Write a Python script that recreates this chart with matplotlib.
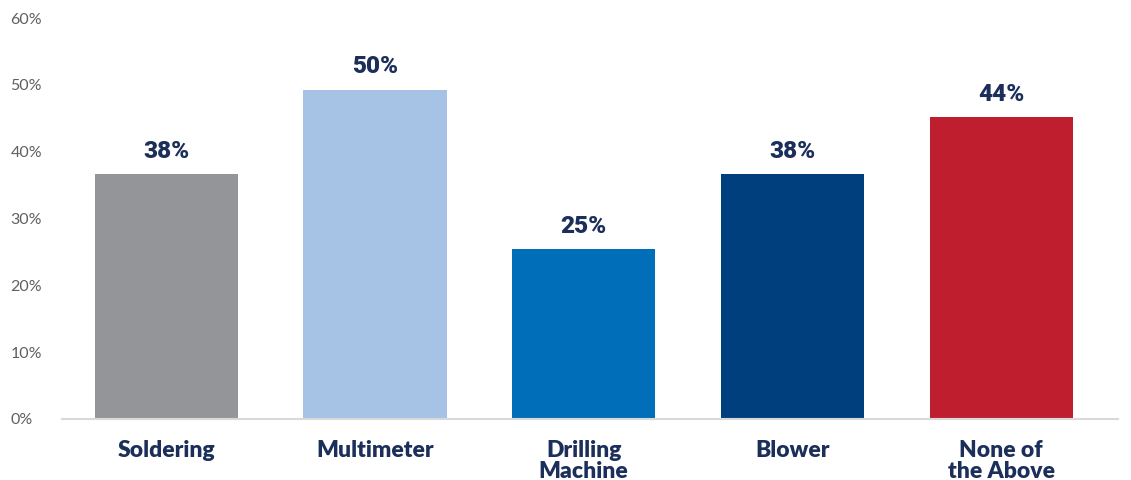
import matplotlib.pyplot as plt

categories = ["Soldering", "Multimeter", "Drilling\nMachine", "Blower", "None of\nthe Above"]
values = [36.7, 49.3, 25.4, 36.7, 45.2]
value_labels = ["38%", "50%", "25%", "38%", "44%"]
colors = ["#939598", "#a6c3e6", "#006eb8", "#003f7d", "#be1e2d"]
yticks = [0, 10, 20, 30, 40, 50, 60]

navy = "#1b2f5a"

fig = plt.figure(figsize=(11.31, 4.8), dpi=100)
ax = fig.add_axes([62 / 1131, 1 - 419 / 480, (1118 - 62) / 1131, 401 / 480])

x = range(len(categories))
bars = ax.bar(x, values, width=0.686, color=colors, zorder=2)

for b, lab in zip(bars, value_labels):
    ax.annotate(lab, (b.get_x() + b.get_width() / 2, b.get_height()),
                xytext=(0, 8), textcoords="offset points", ha="center", va="bottom",
                fontsize=17.5, fontweight="black", family="Roboto", color=navy)

ax.set_xlim(-0.5, 4.56)
ax.set_ylim(0, 60)
ax.set_yticks(yticks)
ax.set_yticklabels([f"{t}%" for t in yticks], fontsize=11.5, color="#5f5f5f", family="Lato")
ax.set_xticks(list(x))
ax.set_xticklabels(categories, fontsize=16.5, fontweight="heavy", color=navy,
                   family="Lato", linespacing=1.0)
ax.tick_params(axis="both", length=0)
ax.tick_params(axis="x", pad=15)
ax.tick_params(axis="y", pad=37)
for lbl in ax.get_yticklabels():
    lbl.set_horizontalalignment("left")

for s in ["top", "right", "left"]:
    ax.spines[s].set_visible(False)
ax.spines["bottom"].set_color("#d9d9d9")
ax.spines["bottom"].set_linewidth(1.5)

fig.savefig("out.png", dpi=100)
